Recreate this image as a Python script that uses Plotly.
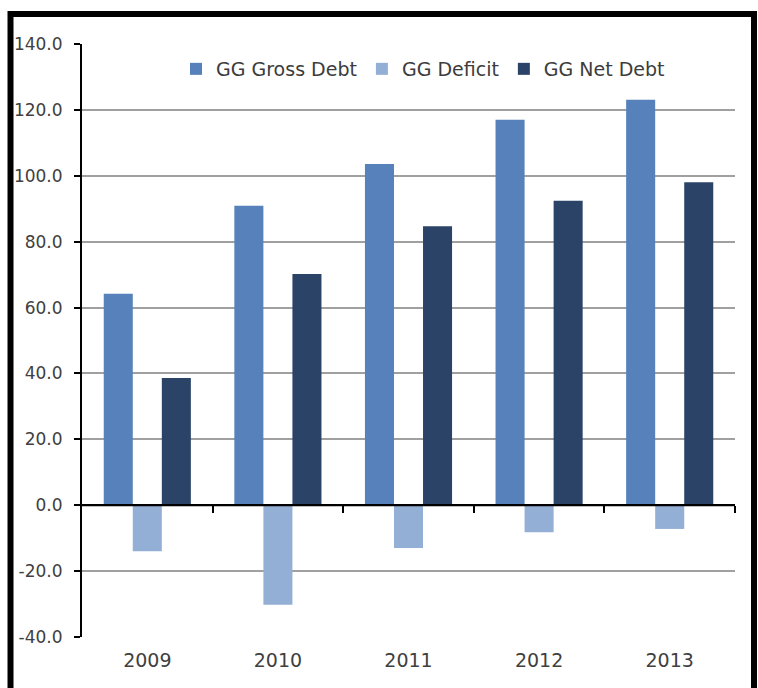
import plotly.graph_objects as go

# General government debt and deficit, % of GDP
years = ["2009", "2010", "2011", "2012", "2013"]
gross_debt = [64.2, 90.9, 103.6, 117.0, 123.1]
deficit = [-14.0, -30.2, -13.0, -8.2, -7.2]
net_debt = [38.6, 70.2, 84.7, 92.4, 98.0]

y_ticks = [-40, -20, 0, 20, 40, 60, 80, 100, 120, 140]
y_tick_text = [f"{v:.1f}" for v in y_ticks]

series = [
    ("GG Gross Debt", gross_debt, "#5681BA"),
    ("GG Deficit", deficit, "#94AFD5"),
    ("GG Net Debt", net_debt, "#2C4368"),
]

W, H = 758, 688
M_L, M_R, M_T, M_B = 82, 23, 44, 51
plot_w = W - M_L - M_R
plot_h = H - M_T - M_B


def px_to_paper_x(px):
    return (px - M_L) / plot_w


def px_to_paper_y(py):
    return (H - M_B - py) / plot_h


fig = go.Figure()
for name, vals, color in series:
    fig.add_trace(go.Bar(x=years, y=vals, name=name, marker_color=color,
                         marker_line_width=0))

y_min, y_max = y_ticks[0], y_ticks[-1]
zero_pos = (0 - y_min) / (y_max - y_min)
x_span = [-0.5, len(years) - 0.5]
boundaries = [i + 0.5 for i in range(len(years))]

# category axis line at zero, with ticks between the year groups
fig.add_trace(go.Scatter(
    x=x_span, y=[0, 0], xaxis="x2", mode="lines",
    line=dict(color="black", width=2), showlegend=False, hoverinfo="skip",
))

tick_font = dict(family="DejaVu Sans", size=17, color="#404040")

fig.update_layout(
    width=W, height=H,
    margin=dict(l=M_L, r=M_R, t=M_T, b=M_B, pad=0),
    paper_bgcolor="white", plot_bgcolor="white",
    barmode="group", bargap=0.333, bargroupgap=0,
    font=dict(family="DejaVu Sans", color="#404040"),
    legend=dict(
        orientation="h", x=px_to_paper_x(176), xanchor="left",
        y=px_to_paper_y(69), yanchor="middle",
        bgcolor="rgba(0,0,0,0)", font=dict(family="DejaVu Sans", size=19, color="#3c3c3c"),
        itemwidth=30, traceorder="normal",
    ),
    xaxis=dict(
        type="category", range=x_span,
        showline=False, showgrid=False, zeroline=False, ticks="",
        tickfont=dict(family="DejaVu Sans", size=19, color="#404040"),
        ticklabelstandoff=10,
    ),
    xaxis2=dict(
        overlaying="x", anchor="free", position=zero_pos,
        range=x_span, tickmode="array", tickvals=boundaries,
        ticks="outside", ticklen=7, tickwidth=2, tickcolor="black",
        showticklabels=False, showline=True, linecolor="black", linewidth=2,
        showgrid=False, zeroline=False,
    ),
    yaxis=dict(
        range=[y_min, y_max], tickmode="array", tickvals=y_ticks, ticktext=y_tick_text,
        showgrid=True, gridcolor="#a0a0a0", gridwidth=1.5,
        zeroline=True, zerolinecolor="black", zerolinewidth=2,
        showline=True, linecolor="black", linewidth=2,
        ticks="outside", ticklen=6, tickwidth=2, tickcolor="black",
        tickfont=tick_font, ticklabelstandoff=8,
    ),
    shapes=[dict(
        type="rect", xref="paper", yref="paper", layer="above",
        x0=px_to_paper_x(10.5), x1=px_to_paper_x(754),
        y0=px_to_paper_y(700), y1=px_to_paper_y(14),
        line=dict(color="black", width=6), fillcolor="rgba(0,0,0,0)",
    )],
)

fig.write_html("out.html")
